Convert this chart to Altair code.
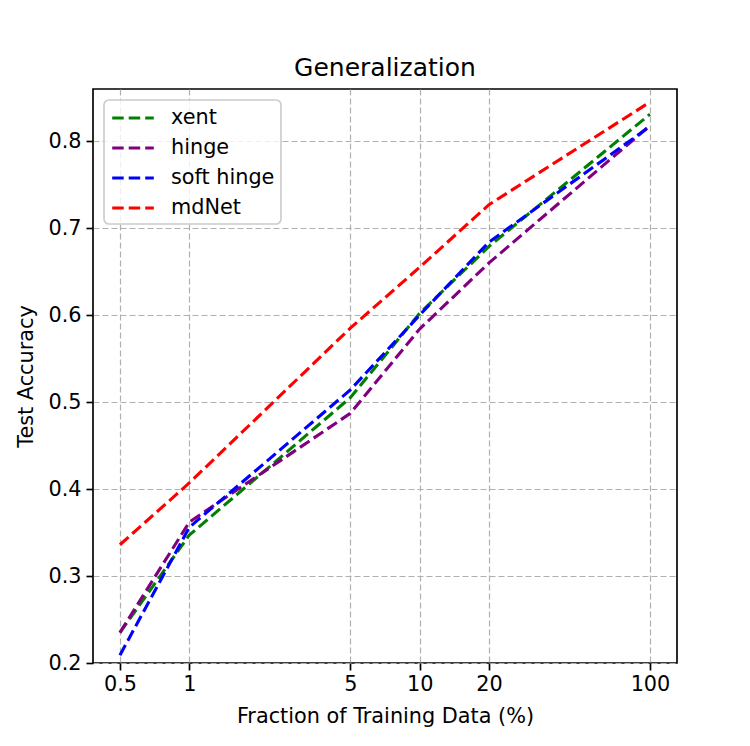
import altair as alt
import pandas as pd

fractions = [0.5, 1, 5, 10, 20, 100]
xent = [0.235, 0.347, 0.505, 0.602, 0.679, 0.831]
hinge = [0.235, 0.362, 0.487, 0.584, 0.660, 0.818]
soft_hinge = [0.209, 0.356, 0.514, 0.600, 0.684, 0.817]
mdnet = [0.336, 0.407, 0.585, 0.655, 0.727, 0.845]

series_names = ["xent", "hinge", "soft hinge", "mdNet"]
colors = ["#008000", "#800080", "#0000ff", "#ff0000"]
y_ticks = [0.2, 0.3, 0.4, 0.5, 0.6, 0.7, 0.8]

rows = []
for name, vals in zip(series_names, [xent, hinge, soft_hinge, mdnet]):
    for f, v in zip(fractions, vals):
        rows.append({"fraction": f, "accuracy": v, "method": name})
df = pd.DataFrame(rows)

FONT = "DejaVu Sans"

chart = alt.Chart(df).mark_line(strokeWidth=3.1, strokeDash=[11.5, 5]).encode(
    x=alt.X("fraction:Q",
            scale=alt.Scale(type="log", domain=[0.382, 131], nice=False),
            axis=alt.Axis(values=fractions, format="~g",
                          title="Fraction of Training Data (%)",
                          labelPadding=4, titlePadding=13)),
    y=alt.Y("accuracy:Q",
            scale=alt.Scale(domain=[0.2, 0.86], nice=False, zero=False),
            axis=alt.Axis(values=y_ticks, format=".1f", title="Test Accuracy",
                          labelPadding=5, titlePadding=11)),
    color=alt.Color("method:N",
                    scale=alt.Scale(domain=series_names, range=colors),
                    legend=alt.Legend(title=None, orient="none", legendX=11, legendY=11)),
).properties(
    width=584,
    height=574,
    title=alt.TitleParams("Generalization", fontSize=25, font=FONT, fontWeight="normal",
                          anchor="middle", baseline="alphabetic", offset=-12, color="black"),
    autosize=alt.AutoSizeParams(type="none"),
    padding={"left": 93, "top": 89, "right": 73, "bottom": 83},
).configure_view(
    stroke="black", strokeWidth=1.67
).configure_axis(
    domain=False,
    labelFont=FONT, labelFontSize=20.8, labelColor="black",
    titleFont=FONT, titleFontSize=20.8, titleFontWeight="normal", titleColor="black",
    tickColor="black", tickSize=7, tickWidth=1.67,
    grid=True, gridColor="#b0b0b0", gridDash=[6, 3], gridWidth=1.2,
).configure_legend(
    symbolType="M-2.08,0L2.08,0",
    symbolSize=400,
    symbolStrokeWidth=3.1,
    symbolDash=[11.5, 5],
    labelFont=FONT, labelFontSize=20.8, labelColor="black",
    padding=6, rowPadding=8, symbolOffset=11, labelOffset=26,
    strokeColor="#cccccc", strokeWidth=1.67, fillColor="rgba(255,255,255,0.8)",
    cornerRadius=5,
)

chart.save("out.html", embed_options={"renderer": "svg", "actions": False})
